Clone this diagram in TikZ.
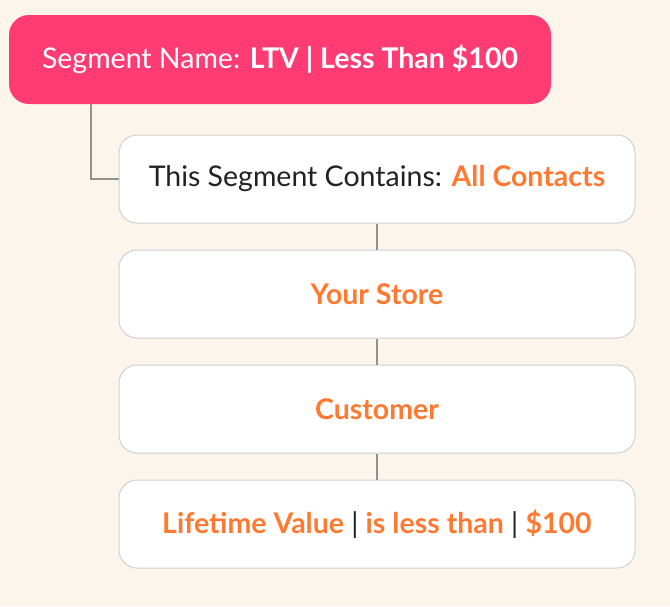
\documentclass[tikz,border=0pt]{standalone}
\usepackage{fontspec}
\setmainfont{Lato}
\usetikzlibrary{positioning}

\definecolor{bgcream}{RGB}{251,245,236}
\definecolor{segpink}{RGB}{255,59,116}
\definecolor{condorange}{RGB}{255,122,48}
\definecolor{linegray}{RGB}{145,145,145}
\definecolor{boxgray}{RGB}{208,208,208}
\definecolor{textdark}{RGB}{34,34,34}

\newcommand{\hl}[1]{\textcolor{condorange}{\textbf{#1}}}

\tikzset{
  segbox/.style={fill=segpink, rounded corners=20pt, minimum width=542pt,
    minimum height=89pt, text=white, font=\fontsize{28.5}{32}\selectfont},
  condbox/.style={draw=boxgray, fill=white, line width=1pt, rounded corners=18pt,
    minimum width=516pt, minimum height=88pt, text=textdark,
    font=\fontsize{28.5}{32}\selectfont},
  link/.style={draw=linegray, line width=1.6pt}
}

\begin{document}
\begin{tikzpicture}[x=1pt, y=-1pt]
            % Background
            \fill[bgcream] (0,0) rectangle (670,606);
            \useasboundingbox (0,0) rectangle (670,606);

            % Segment name
            \node[segbox] (segname) at (280,59.5) {Segment Name: \textbf{LTV | Less Than \$100}};

            % Conditions
            \node[condbox] (contains) at (377,179) {This Segment Contains: \hl{All Contacts}};
            \node[condbox, below=26pt of contains] (store) {\hl{Your Store}};
            \node[condbox, below=26pt of store] (customer) {\hl{Customer}};
            \node[condbox, below=26pt of customer] (ltv) {\hl{Lifetime Value} | \hl{is less than} | \hl{\$100}};

            % Links
            \draw[link] ([xshift=82pt]segname.south west) |- (contains.west);
            \draw[link] (contains) -- (store);
            \draw[link] (store) -- (customer);
            \draw[link] (customer) -- (ltv);

        \end{tikzpicture}
\end{document}
